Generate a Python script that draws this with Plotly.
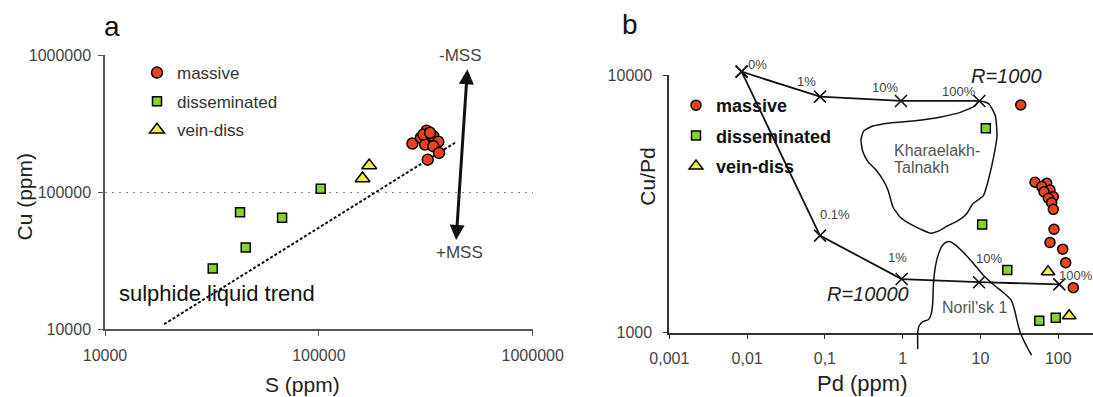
import numpy as np
import plotly.graph_objects as go

W, H = 1093, 397
FONT = "Liberation Sans, Arial, sans-serif"

# ---------------- Panel a data (S vs Cu, ppm) ----------------
a_massive_S = [274000, 319000, 300000, 324000, 343000, 362000, 314000, 343000, 365000, 323000, 308000, 331000]
a_massive_Cu = [227000, 282000, 250000, 234000, 257000, 234000, 223000, 217000, 194000, 173000, 264000, 272000]
a_dissem_S = [102000, 42800, 67300, 45500, 31900]
a_dissem_Cu = [106000, 71400, 65300, 39600, 27800]
a_vein_S = [172000, 160000]
a_vein_Cu = [157000, 126000]
trend_S = [18900, 437000]
trend_Cu = [10900, 232000]
mss_S = [438000, 495000]      # +MSS end, -MSS end
mss_Cu = [43800, 790000]
a_ticks = [10000, 100000, 1000000]
a_ticktext = ["10000", "100000", "1000000"]

# ---------------- Panel b data (Pd ppm vs Cu/Pd) ----------------
b_massive_Pd = [32.9, 50.2, 71, 61.2, 78.2, 65.5, 86.3, 74.5, 82.2, 86.3, 88, 78.2, 114, 124.5, 156]
b_massive_CuPd = [7650, 3835, 3800, 3690, 3580, 3520, 3370, 3325, 3195, 3010, 2520, 2240, 2110, 1870, 1495]
b_dissem_Pd = [11.7, 10.5, 22.1, 57, 92.7]
b_dissem_CuPd = [6210, 2630, 1750, 1113, 1143]
b_vein_Pd = [73.8, 138]
b_vein_CuPd = [1725, 1163]

r1000_Pd = [0.0085, 0.0865, 0.95, 9.66]
r1000_CuPd = [10300, 8240, 7930, 7930]
r1000_labels = ["0%", "1%", "10%", "100%"]
r10000_Pd = [0.0085, 0.0865, 0.97, 9.57, 103]
r10000_CuPd = [10300, 2380, 1615, 1570, 1540]
r10000_labels = ["0%", "0.1%", "1%", "10%", "100%"]

kt_Pd = [9.66, 12.7, 15.5, 16.3, 14.8, 12.9, 10.9, 8.02, 6.61, 5.14, 3.80, 2.81, 2.29, 1.69, 1.24,
         0.923, 0.750, 0.647, 0.558, 0.454, 0.358, 0.306, 0.291, 0.316, 0.415, 0.687, 1.53, 3.10, 5.61, 8.49]
kt_CuPd = [7925, 7745, 6950, 5794, 4831, 4018, 3404, 3170, 2891, 2723, 2600, 2472, 2432, 2523, 2642,
           2812, 3076, 3581, 3917, 4276, 4613, 5058, 5623, 6067, 6339, 6516, 6653, 6871, 7178, 7586]
nor_Pd = [1.56, 1.56, 1.62, 1.82, 2.15, 2.34, 2.43, 2.49, 2.64, 2.88, 3.20, 3.61, 4.06, 4.70, 5.96,
          8.02, 10.8, 14.9, 20.0, 24.7, 27.4, 29.4, 31.7, 35.7, 40.2, 45.3]
nor_CuPd = [865, 998, 1062, 1104, 1125, 1191, 1303, 1560, 1816, 2018, 2168, 2244, 2254, 2198, 2056,
            1866, 1675, 1531, 1426, 1340, 1225, 1119, 1023, 938, 873, 818]
b_xticks = [0.001, 0.01, 0.1, 1, 10, 100]
b_xticktext = ["0,001", "0,01", "0,1", "1", "10", "100"]
b_yticks = [1000, 10000]
b_yticktext = ["1000", "10000"]

# ---------------- layout geometry (pixels) ----------------
A_X = [105, 532.7]
A_Y = [56, 329.3]
A_TOP_PAD = 0.01                      # small range pad so the top gridline is kept
a_ydec = A_Y[1] - A_Y[0]
A_YD = [A_Y[0] - A_TOP_PAD * a_ydec / 2, A_Y[1]]
B_X = [669.3, 1093]
B_Y = [75, 332.7]
O_Y = [38, 368]
B_XDEC = 77.8
b_ydec = B_Y[1] - B_Y[0]
b_xrange = [-3, -3 + (B_X[1] - B_X[0]) / B_XDEC]
o_yrange = [3 - (O_Y[1] - B_Y[1]) / b_ydec, 4 + (B_Y[0] - O_Y[0]) / b_ydec]


def dx(p):
    return [p[0] / W, p[1] / W]


def dy(p):
    return [1 - p[1] / H, 1 - p[0] / H]


RED = "#E8431C"
GREEN = "#86D42A"
YELLOW = "#F2F03A"
EDGE = dict(color="black", width=1.5)

fig = go.Figure()

# ---- panel a ----
fig.add_trace(go.Scatter(x=trend_S, y=trend_Cu, mode="lines", xaxis="x", yaxis="y",
                         line=dict(color="#111", width=2, dash="3px,2px"), showlegend=False))
fig.add_trace(go.Scatter(x=a_dissem_S, y=a_dissem_Cu, mode="markers", name="disseminated",
                         marker=dict(symbol="square", size=9, color=GREEN, line=EDGE),
                         legend="legend", legendgroup="a2", legendrank=2))
fig.add_trace(go.Scatter(x=a_vein_S, y=a_vein_Cu, mode="markers", name="vein-diss",
                         marker=dict(symbol="triangle-up", size=13, color=YELLOW, line=EDGE),
                         legend="legend", legendgroup="a3", legendrank=3))
fig.add_trace(go.Scatter(x=a_massive_S, y=a_massive_Cu, mode="markers", name="massive",
                         marker=dict(symbol="circle", size=11, color=RED, line=EDGE),
                         legend="legend", legendgroup="a1", legendrank=1))

# ---- panel b ----
fig.add_trace(go.Scatter(x=kt_Pd + kt_Pd[:1], y=kt_CuPd + kt_CuPd[:1], mode="lines",
                         xaxis="x2", yaxis="y2", showlegend=False,
                         line=dict(color="#111", width=1.5, shape="spline", smoothing=0.5)))
fig.add_trace(go.Scatter(x=b_dissem_Pd, y=b_dissem_CuPd, mode="markers", name="disseminated",
                         xaxis="x2", yaxis="y2",
                         marker=dict(symbol="square", size=9, color=GREEN, line=EDGE),
                         legend="legend2", legendgroup="b2", legendrank=2))
fig.add_trace(go.Scatter(x=b_vein_Pd, y=b_vein_CuPd, mode="markers", name="vein-diss",
                         xaxis="x2", yaxis="y2",
                         marker=dict(symbol="triangle-up", size=12, color=YELLOW, line=EDGE),
                         legend="legend2", legendgroup="b3", legendrank=3))
fig.add_trace(go.Scatter(x=b_massive_Pd, y=b_massive_CuPd, mode="markers", name="massive",
                         xaxis="x2", yaxis="y2",
                         marker=dict(symbol="circle", size=10, color=RED, line=EDGE),
                         legend="legend2", legendgroup="b1", legendrank=1))
# curves that run past the axes are drawn on an invisible overlay with a taller y domain
fig.add_trace(go.Scatter(x=nor_Pd, y=nor_CuPd, mode="lines", xaxis="x3", yaxis="y3", showlegend=False,
                         line=dict(color="#111", width=1.5, shape="spline", smoothing=0.5)))
for px_, cy_ in ((r1000_Pd, r1000_CuPd), (r10000_Pd, r10000_CuPd)):
    fig.add_trace(go.Scatter(x=px_, y=cy_, mode="lines+markers", xaxis="x3", yaxis="y3", showlegend=False,
                             line=dict(color="#111", width=1.8),
                             marker=dict(symbol="x-thin", size=12, color="#111",
                                         line=dict(color="#111", width=1.6))))

tickfont = dict(family=FONT, size=16, color="#444")
common = dict(type="log", showline=True, ticks="outside", zeroline=False, tickmode="array",
              tickfont=tickfont, fixedrange=True)

fig.update_layout(
    width=W, height=H, margin=dict(l=0, r=0, t=0, b=0, autoexpand=False),
    paper_bgcolor="white", plot_bgcolor="rgba(0,0,0,0)",
    font=dict(family=FONT),
    xaxis=dict(domain=dx(A_X), range=[4, 6], anchor="y", tickvals=a_ticks, ticktext=a_ticktext,
               linecolor="#555", linewidth=1.5, tickcolor="#555", ticklen=5, showgrid=False,
               ticklabelstandoff=6, **common),
    yaxis=dict(domain=dy(A_YD), range=[4, 6 + A_TOP_PAD / 2], anchor="x", tickvals=a_ticks,
               ticktext=a_ticktext, linecolor="#555", linewidth=1.5, tickcolor="#555", ticklen=5,
               showgrid=True, gridcolor="#888", griddash="2px,5px", gridwidth=1.2,
               ticklabelstandoff=4, **common),
    xaxis2=dict(domain=dx(B_X), range=b_xrange, anchor="y2", tickvals=b_xticks, ticktext=b_xticktext,
                linecolor="#333", linewidth=2, tickcolor="#333", ticklen=4, showgrid=False,
                ticklabelstandoff=6, **common),
    yaxis2=dict(domain=dy(B_Y), range=[3, 4], anchor="x2", tickvals=b_yticks, ticktext=b_yticktext,
                linecolor="#333", linewidth=2, tickcolor="#333", ticklen=4, showgrid=False,
                ticklabelstandoff=8, **common),
    xaxis3=dict(domain=dx(B_X), range=b_xrange, anchor="y3", type="log", visible=False, fixedrange=True),
    yaxis3=dict(domain=dy(O_Y), range=o_yrange, anchor="x3", type="log", visible=False, fixedrange=True),
    legend=dict(x=137 / W, y=1 - 55 / H, xanchor="left", yanchor="top", bgcolor="rgba(0,0,0,0)",
                font=dict(family=FONT, size=17, color="#333"), tracegroupgap=3.5, traceorder="grouped"),
    legend2=dict(x=676 / W, y=1 - 87 / H, xanchor="left", yanchor="top", bgcolor="rgba(0,0,0,0)",
                 font=dict(family=FONT, size=18, color="#111", weight="bold"), tracegroupgap=4,
                 traceorder="grouped"),
)


def note(text, px, py, size, color="#222", angle=0, xanchor="center", style="normal", weight="normal"):
    return dict(text=text, x=px / W, y=1 - py / H, xref="paper", yref="paper", showarrow=False,
                xanchor=xanchor, yanchor="middle", textangle=angle,
                font=dict(family=FONT, size=size, color=color, style=style, weight=weight))


ann = [
    note("a", 112, 26, 28, "#111"),
    note("b", 630, 24, 28, "#111"),
    note("Cu (ppm)", 23.5, 197, 21, "#222", angle=-90),
    note("S (ppm)", 302.5, 384, 21, "#222"),
    note("Cu/Pd", 646.7, 177, 21, "#222", angle=-90),
    note("Pd (ppm)", 861.7, 383, 22, "#222"),
    note("sulphide liquid trend", 217, 293, 22, "#111"),
    note("-MSS", 460, 56, 17, "#444"),
    note("+MSS", 459, 252, 17, "#444"),
    note("Kharaelakh-", 892, 150, 16, "#555", xanchor="left"),
    note("Talnakh", 892, 168, 16, "#555", xanchor="left"),
    note("Noril'sk 1", 974, 307, 16, "#555"),
    note("R=1000", 1006, 76, 20, "#222", style="italic"),
    note("R=10000", 867.5, 294, 20, "#222", style="italic"),
]

# double-headed MSS arrow (log axis -> log10 coordinates)
ann.append(dict(x=np.log10(mss_S[1]), y=np.log10(mss_Cu[1]), ax=np.log10(mss_S[0]), ay=np.log10(mss_Cu[0]),
                xref="x", yref="y", axref="x", ayref="y", text="", showarrow=True,
                arrowhead=2, startarrowhead=2, arrowside="end+start", arrowsize=1, startarrowsize=1,
                arrowwidth=3, arrowcolor="#111"))

# percent labels next to mixing-line points
r1000_off = [(16, 7), (-13, 15), (-16, 13), (-20, 9)]
r10000_off = [None, (15, 21), (-4, 22), (10, 24), (17, 9)]
for xs, ys, labs, offs in ((r1000_Pd, r1000_CuPd, r1000_labels, r1000_off),
                           (r10000_Pd, r10000_CuPd, r10000_labels, r10000_off)):
    for xv, yv, lab, off in zip(xs, ys, labs, offs):
        if off is None:
            continue
        ann.append(dict(x=np.log10(xv), y=np.log10(yv), xref="x3", yref="y3", text=lab, showarrow=False,
                        xshift=off[0], yshift=off[1], font=dict(family=FONT, size=13, color="#444")))

fig.update_layout(annotations=ann)
fig.write_html("out.html", config={"displayModeBar": False},
               post_script="document.body.style.margin='0';document.body.style.padding='0';")
